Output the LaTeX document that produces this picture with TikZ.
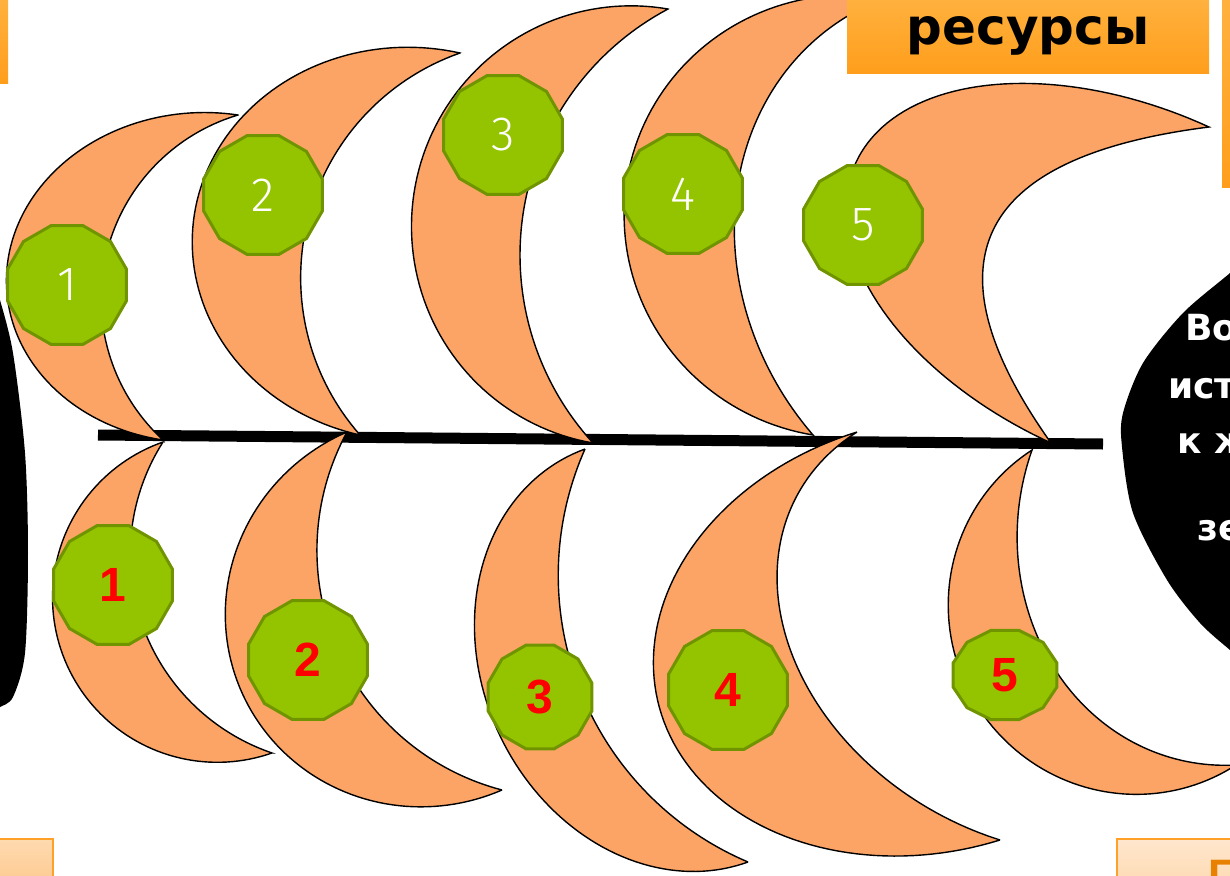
\documentclass[tikz,border=0pt]{standalone}
\usepackage{fontspec}
\usetikzlibrary{shapes.geometric}
\newfontfamily\thinfont{Fira Sans Light}
\newfontfamily\numfont{Liberation Sans}
\newfontfamily\headfont{DejaVu Sans}
\definecolor{moon}{RGB}{252,164,102}
\definecolor{decfill}{RGB}{148,196,0}
\definecolor{decline}{RGB}{112,148,0}
\definecolor{orA}{RGB}{255,178,64}
\definecolor{orB}{RGB}{255,158,28}
\definecolor{peachA}{RGB}{254,218,176}
\definecolor{peachB}{RGB}{253,200,140}
\definecolor{peachC}{RGB}{255,230,205}
\definecolor{orline}{RGB}{255,160,40}
\definecolor{gdark}{RGB}{232,128,0}
% inner edge profile of a crescent: blend of circular arc and parabola
\pgfmathdeclarefunction{moond}{1}{%
  \pgfmathparse{\mw*(\mr*sqrt(max(1-(#1/\mr)^2,0))-\mr+\mh)+(1-\mw)*\mh*(1-(#1/\mb)^2)}}
% #1,#2 tip A; #3,#4 tip B; #5 outer bulge; #6 outer skew; #7 inner bulge; #8 inner skew; #9 circle weight
\newcommand\drawmoon[9]{%
  \pgfmathsetmacro\mcx{(#1+#3)/2}%
  \pgfmathsetmacro\mcy{(#2+#4)/2}%
  \pgfmathsetmacro\mb{50*veclen((#3-#1)/100,(#4-#2)/100)}%
  \pgfmathsetmacro\mux{(#3-#1)/(2*\mb)}%
  \pgfmathsetmacro\muy{(#4-#2)/(2*\mb)}%
  \pgfmathsetmacro\mnx{-\muy}%
  \pgfmathsetmacro\mny{\mux}%
  \pgfmathsetmacro\mvx{#1-\mcx}%
  \pgfmathsetmacro\mvy{#2-\mcy}%
  \pgfmathsetmacro\mwx{#5*\mnx+#6*\mux}%
  \pgfmathsetmacro\mwy{#5*\mny+#6*\muy}%
  \pgfmathsetmacro\mh{#7}%
  \pgfmathsetmacro\mr{\mb*(\mb/(2*\mh))+\mh/2}%
  \pgfmathsetmacro\mk{#8}%
  \pgfmathsetmacro\mw{#9}%
  \filldraw[moonshape]
    plot[domain=0:180,samples=90,variable=\ms]
      ({\mcx+\mvx*cos(\ms)+\mwx*sin(\ms)},{\mcy+\mvy*cos(\ms)+\mwy*sin(\ms)})
    -- plot[domain=\mb:-\mb,samples=90,variable=\mt]
      ({\mcx+(\mt+\mk*moond(\mt)/\mh)*\mux+moond(\mt)*\mnx},
       {\mcy+(\mt+\mk*moond(\mt)/\mh)*\muy+moond(\mt)*\mny})
    -- cycle;}
\begin{document}
\begin{tikzpicture}[x=1pt,y=-1pt,
  moonshape/.style={fill=moon,draw=black,line width=1.4pt,line join=miter},
  deca/.style={regular polygon,regular polygon sides=12,fill=decfill,draw=decline,line width=3pt,inner sep=0pt,minimum size=123pt},
  smalldeca/.style={deca,minimum size=107.5pt},
  topnum/.style={text=white,font=\thinfont\fontsize{48}{48}\selectfont,inner sep=0pt},
  botnum/.style={text=red,font=\numfont\bfseries\fontsize{48}{48}\selectfont,inner sep=0pt},
  spine/.style={line width=11pt,black},
  fishtext/.style={text=white,font=\headfont\bfseries\fontsize{36}{36}\selectfont,inner sep=0pt,anchor=base west}]
\useasboundingbox (0,0) rectangle (1230,875);
\fill[white] (0,0) rectangle (1230,875);
\clip (0,0) rectangle (1230,875);

% fish head and tail
\fill[black] plot[smooth] coordinates {(1240,262) (1230,273) (1183,313) (1143,363) (1123,413) (1122,447) (1133,513) (1167,580) (1200,623) (1230,650) (1245,662)} -- (1260,662) -- (1260,262) -- cycle;
\fill[black] plot[smooth] coordinates {(-2,298) (0,300) (13,353) (25,453) (28,553) (25,653) (13,697) (0,707) (-2,709)} -- (-10,709) -- (-10,298) -- cycle;
\node[fishtext] (f1) at (1185,340) {Во};
\node[fishtext] (f2) at (1168,398) {ист};
\node[fishtext] (f3) at (1177,453) {к ж};
\node[fishtext] (f4) at (1197,540) {зе};

% spine
\coordinate (spineL) at (98,435);
\coordinate (spineR) at (1103,444);
\draw[spine] (spineL) -- (spineR);

% upper crescents
\drawmoon{238}{115}{163}{440}{192}{15}{97}{0}{1}
\drawmoon{460}{53}{360}{435}{217}{8}{105}{0}{1}
\drawmoon{668}{9}{593}{443}{219}{0}{108}{0}{1}
\drawmoon{885}{-2}{813}{435}{225}{0}{115}{-15}{1}
\drawmoon{1209}{127}{1051}{443}{300}{10}{147}{10}{0}

% lower crescents
\drawmoon{163}{442}{272}{753}{165}{0}{80}{0}{1}
\drawmoon{347}{432}{502}{790}{200}{0}{95}{0}{1}
\drawmoon{585}{449}{748}{862}{185}{-5}{93}{0}{1}
\drawmoon{857}{432}{1000}{840}{278}{-10}{135}{-35}{1}
\drawmoon{1032}{450}{1236}{765}{185}{0}{100}{10}{1}

% frame pieces of the slide
\shade[top color=orA,bottom color=orB] (-10,-5) rectangle (8,83);
\shade[top color=orA,bottom color=orB] (847,-5) rectangle (1209,73);
\node[font=\headfont\bfseries\fontsize{50}{50}\selectfont,anchor=base,inner sep=0pt] (res) at (1028,45) {ресурсы};
\shade[top color=orA,bottom color=orB] (1222,-5) rectangle (1245,187);
\shade[top color=peachA,bottom color=peachB,draw=orline,line width=2.5pt] (-10,839) rectangle (53,890);
\shade[top color=peachC,bottom color=peachA,draw=orline,line width=2pt] (1117,839) rectangle (1250,890);
\node[text=gdark,font=\numfont\bfseries\fontsize{44}{44}\selectfont,anchor=base west,inner sep=0pt] (gl) at (1208,890) {Г};

% upper badges
\node[deca] (t1) at (67,285) {};
\node[topnum] (t1n) at (t1.center) {1};
\node[deca] (t2) at (263,195) {};
\node[topnum] (t2n) at (t2.center) {2};
\node[deca] (t3) at (503,135) {};
\node[topnum] (t3n) at (t3.center) {3};
\node[deca] (t4) at (683,194) {};
\node[topnum] (t4n) at (t4.center) {4};
\node[deca] (t5) at (863,225) {};
\node[topnum] (t5n) at (t5.center) {5};

% lower badges
\node[deca] (b1) at (113,585) {};
\node[botnum] (b1n) at (b1.center) {1};
\node[deca] (b2) at (308,660) {};
\node[botnum] (b2n) at (b2.center) {2};
\node[smalldeca] (b3) at (540,697) {};
\node[botnum] (b3n) at (b3.center) {3};
\node[deca] (b4) at (728,690) {};
\node[botnum] (b4n) at (b4.center) {4};
\begin{scope}[shift={(1005,675)},yscale=0.86]
\node[smalldeca,transform shape] (b5) at (0,0) {};
\end{scope}
\node[botnum] (b5n) at (1005,675) {5};
\end{tikzpicture}
\end{document}
